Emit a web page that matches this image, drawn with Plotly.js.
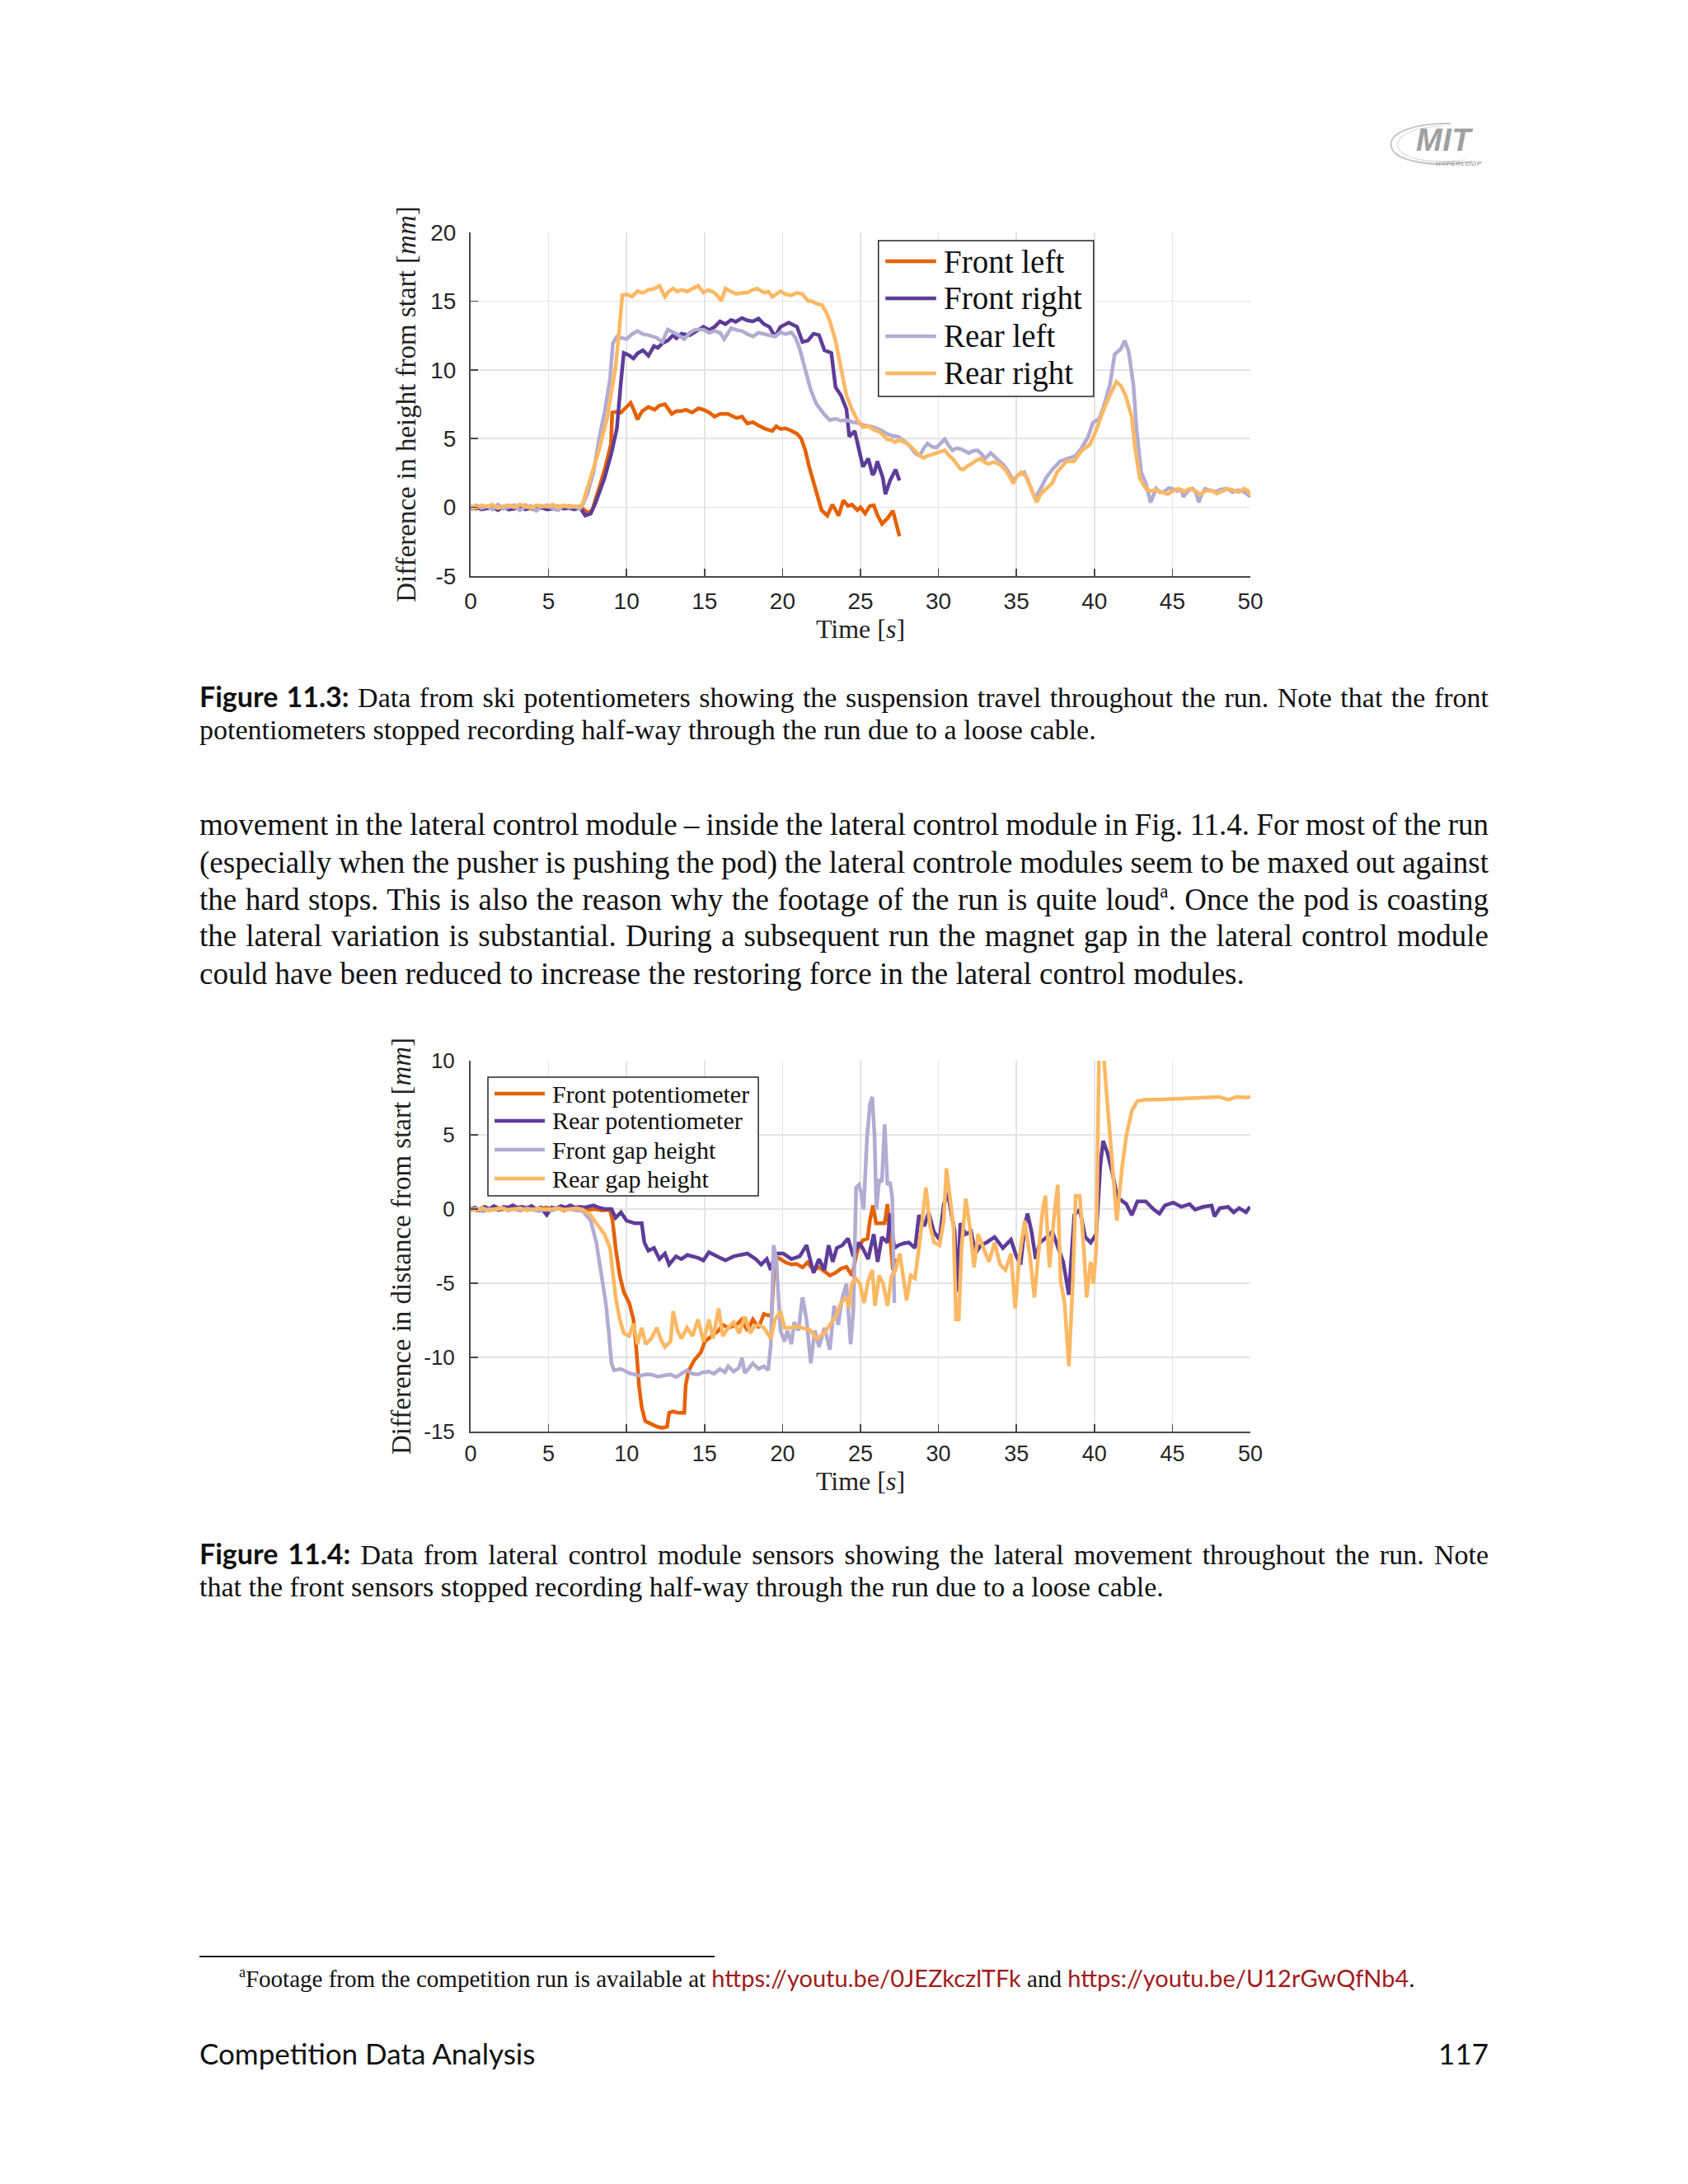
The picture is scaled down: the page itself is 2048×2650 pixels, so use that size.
<!DOCTYPE html>
<html>
<head>
<meta charset="utf-8">
<script src="https://cdn.plot.ly/plotly-3.0.1.min.js"></script>
<style>
  html, body { margin:0; padding:0; background:#ffffff; }
  #page { position:relative; width:2048px; height:2650px; background:#ffffff; overflow:hidden; color:#111; }
  .ln { position:absolute; left:242px; width:1564px; height:50px; line-height:50px; font-family:"Liberation Serif", serif; font-size:37px; white-space:nowrap; text-align:left; }
  .cap { font-size:34px; }
  .figlbl { font-family:Lato, "Open Sans", sans-serif; font-weight:700; }
  sup { font-size:0.62em; line-height:0; vertical-align:0.65em; }
  #chart1 { position:absolute; left:440px; top:240px; width:1120px; height:560px; }
  #chart2 { position:absolute; left:440px; top:1240px; width:1120px; height:580px; }
  .link { color:#a11b1b; font-family:Lato, sans-serif; }
  #rule { position:absolute; left:242px; top:2373px; width:625px; height:2px; background:#222; }
  #foot { position:absolute; left:290px; top:2380px; height:40px; line-height:40px; font-family:"Liberation Serif", serif; font-size:29px; white-space:nowrap; }
  #footer-l { position:absolute; left:242px; top:2468px; height:46px; line-height:46px; font-family:Lato, sans-serif; font-size:35px; }
  #footer-r { position:absolute; right:242px; top:2468px; height:46px; line-height:46px; font-family:Lato, sans-serif; font-size:35px; }
  #logo { position:absolute; left:1680px; top:140px; width:140px; height:72px; }
</style>
</head>
<body>
<div id="page">
  <svg id="logo" viewBox="0 0 140 72">
    <path d="M80,10 C34,9 4,22 8,38 C12,56 60,64 106,56" fill="none" stroke="#c2c2c2" stroke-width="1.8"/>
    <path d="M70,13 C34,14 14,25 16,37 C18,52 54,60 98,54" fill="none" stroke="#d6d6d6" stroke-width="1.1"/>
    <text x="38" y="43" font-family="Liberation Sans, sans-serif" font-weight="700" font-style="italic" font-size="38" fill="#a0a0a0" letter-spacing="0.5">MIT</text>
    <text x="62" y="61" font-family="Liberation Sans, sans-serif" font-weight="700" font-style="italic" font-size="8" fill="#a8a8a8" letter-spacing="0.6">HYPERLOOP</text>
  </svg>

  <div id="chart1"></div>

  <div class="ln cap just" style="top:820px;"><span class="figlbl">Figure 11.3:</span> Data from ski potentiometers showing the suspension travel throughout the run. Note that the front</div>
  <div class="ln cap" style="top:861px;">potentiometers stopped recording half-way through the run due to a loose cable.</div>

  <div class="ln just" style="top:976px;">movement in the lateral control module – inside the lateral control module in Fig. 11.4. For most of the run</div>
  <div class="ln just" style="top:1022px;">(especially when the pusher is pushing the pod) the lateral controle modules seem to be maxed out against</div>
  <div class="ln just" style="top:1067px;">the hard stops. This is also the reason why the footage of the run is quite loud<sup>a</sup>. Once the pod is coasting</div>
  <div class="ln just" style="top:1111px;">the lateral variation is substantial. During a subsequent run the magnet gap in the lateral control module</div>
  <div class="ln" style="top:1157px;">could have been reduced to increase the restoring force in the lateral control modules.</div>

  <div id="chart2"></div>

  <div class="ln cap just" style="top:1860px;"><span class="figlbl">Figure 11.4:</span> Data from lateral control module sensors showing the lateral movement throughout the run. Note</div>
  <div class="ln cap" style="top:1901px;">that the front sensors stopped recording half-way through the run due to a loose cable.</div>

  <div id="rule"></div>
  <div id="foot"><sup>a</sup>Footage from the competition run is available at <span class="link">https://youtu.be/0JEZkczlTFk</span> and <span class="link">https://youtu.be/U12rGwQfNb4</span>.</div>

  <div id="footer-l">Competition Data Analysis</div>
  <div id="footer-r">117</div>
</div>

<script>
// ---------- Figure 11.3 data (time [s], height difference [mm]) ----------
const frontLeftT = [0,0.35,0.7,1.05,1.4,1.75,2.1,2.45,2.8,3.15,3.5,3.85,4.2,4.55,4.9,5.25,5.6,5.95,6.3,6.65,7.0,
  7.3,7.55,7.8,8.1,8.4,8.6,8.8,9.0,9.08,9.3,9.64,9.9,10.26,10.5,10.7,11.0,11.4,11.8,12.1,12.46,
  12.9,13.2,13.5,13.8,14.2,14.6,14.93,15.3,15.64,16.0,16.5,17.05,17.4,17.75,18.1,18.46,18.9,19.34,19.6,19.87,
  20.2,20.6,20.93,21.2,21.46,21.7,22.0,22.25,22.5,22.87,23.2,23.6,23.9,24.2,24.45,24.8,25.0,25.3,25.6,25.85,
  26.1,26.38,26.73,27.08,27.26,27.5];
const frontLeftV = [0.05,-0.1,0.1,-0.05,0.15,-0.1,0.05,-0.15,0.1,0,0.15,-0.1,0.05,-0.05,0.1,-0.1,0.05,0,0.1,-0.05,0.05,
  -0.2,-0.4,-0.2,1.0,2.0,2.75,3.6,4.6,6.9,6.95,6.9,7.2,7.6,7.0,6.4,7.0,7.3,7.1,7.4,7.5,
  6.8,7.0,7.0,7.1,6.9,7.2,7.1,6.9,6.6,6.8,6.8,6.5,6.6,6.1,6.2,5.95,5.7,5.55,5.9,5.7,
  5.75,5.55,5.35,5.0,4.15,3.0,1.8,0.9,-0.2,-0.6,0.2,-0.6,0.5,0.1,0.2,-0.2,0,-0.45,0.1,0.15,
  -0.6,-1.2,-0.8,-0.25,-1.0,-2.1];

const frontRightT = [0,0.35,0.7,1.05,1.4,1.75,2.1,2.45,2.8,3.15,3.5,3.85,4.2,4.55,4.9,5.25,5.6,5.95,6.3,6.65,7.0,
  7.35,7.7,8.0,8.23,8.59,9.03,9.38,9.64,9.82,10.1,10.44,10.7,11.05,11.4,11.76,12.0,12.29,12.64,12.99,13.2,
  13.52,14.05,14.5,14.93,15.3,15.64,15.99,16.34,16.7,17.0,17.4,17.75,18.1,18.46,18.81,19.16,19.52,19.87,20.4,20.93,
  21.28,21.63,21.99,22.34,22.69,23.13,23.4,23.75,24.1,24.28,24.63,24.98,25.16,25.5,25.78,25.9,26.08,26.43,26.6,26.9,
  27.25,27.5];
const frontRightV = [-0.1,0.05,-0.15,-0.05,0.0,-0.2,0.05,-0.15,-0.1,0.1,-0.15,-0.05,-0.2,0.0,-0.15,-0.1,0.05,-0.1,-0.05,-0.15,0.0,
  -0.6,-0.45,0.3,0.96,2.15,3.95,5.75,9.14,11.23,11.1,10.83,11.2,11.43,11.03,11.73,11.6,11.93,12.13,12.53,12.3,
  12.63,12.53,12.8,13.13,12.9,13.13,13.53,13.33,13.63,13.5,13.77,13.6,13.53,13.73,13.33,13.13,12.43,13.13,13.43,13.13,
  12.03,12.13,12.63,12.53,11.43,11.23,8.74,8.14,7.14,5.15,5.55,3.95,2.95,3.55,2.35,2.56,3.35,2.16,0.96,1.95,
  2.75,1.95];

const rearLeftT = [0,0.35,0.7,1.05,1.4,1.75,2.1,2.45,2.8,3.15,3.5,3.85,4.2,4.55,4.9,5.25,5.6,5.95,6.3,6.65,7.0,
  7.18,7.5,7.88,8.23,8.59,8.94,9.12,9.38,10.0,10.35,10.7,11.05,11.4,11.94,12.29,12.64,13.17,13.7,14.05,14.4,
  14.93,15.3,15.64,16.0,16.26,16.7,17.05,17.4,17.75,18.1,18.46,18.81,19.16,19.52,19.87,20.2,20.57,20.84,21.1,21.46,
  21.81,22.16,22.69,23.04,23.4,23.75,24.1,24.5,24.8,25.3,25.6,26.0,26.35,26.7,27.05,27.4,27.9,28.2,28.5,28.8,
  29.05,29.3,29.6,29.86,30.1,30.4,30.65,30.9,31.15,31.4,31.7,31.95,32.2,32.5,32.75,33.0,33.35,33.6,33.9,34.15,
  34.4,34.8,35.1,35.5,35.8,36.0,36.2,36.55,36.9,37.3,37.8,38.3,38.8,39.2,39.6,39.9,40.3,40.6,41.0,41.3,
  41.7,41.95,42.2,42.5,42.7,43.0,43.3,43.6,43.96,44.2,44.5,44.75,45.0,45.3,45.6,45.7,46.0,46.3,46.5,46.7,
  46.9,47.1,47.45,47.8,48.1,48.5,48.85,49.2,49.5,49.8,50];
const rearLeftV = [-0.2,0.15,-0.05,0.1,-0.15,0.2,-0.1,0.05,0.15,-0.2,0.0,0.1,-0.25,0.05,0.15,-0.1,-0.2,0.1,0.0,0.05,-0.1,
  0.16,1.0,2.55,4.95,6.94,9.34,11.93,12.43,12.23,12.6,12.83,12.6,12.53,12.33,12.03,12.93,12.63,12.23,12.7,12.93,
  12.93,12.7,12.83,12.7,12.23,13.03,12.9,12.83,12.6,12.43,12.7,12.63,12.5,12.43,12.73,12.6,12.73,12.33,11.53,10.13,
  8.54,7.54,6.74,6.34,6.44,6.3,6.34,6.2,6.15,5.95,5.9,5.75,5.6,5.35,5.2,5.15,4.75,4.4,3.95,3.75,
  4.3,4.65,4.4,4.35,4.6,4.95,4.5,4.15,4.3,4.25,4.1,3.95,4.1,4.15,3.9,3.55,3.95,3.7,3.35,3.1,
  2.75,1.95,2.35,2.55,1.75,1.2,0.66,1.36,2.15,2.75,3.35,3.55,3.75,4.35,5.15,6.15,6.44,7.34,8.94,11.13,
  11.53,12.13,11.33,8.94,5.75,2.55,1.75,0.36,1.36,1.1,1.15,1.4,1.36,1.2,1.25,0.76,1.2,1.36,1.1,0.36,
  1.0,1.36,1.2,1.15,1.3,1.36,1.1,1.25,1.2,0.96,0.76];

const rearRightT = [0,0.35,0.7,1.05,1.4,1.75,2.1,2.45,2.8,3.15,3.5,3.85,4.2,4.55,4.9,5.25,5.6,5.95,6.3,6.65,7.0,
  7.18,7.45,7.7,8.0,8.23,8.5,8.76,9.0,9.29,9.5,9.64,9.73,10.0,10.35,10.7,11.05,11.4,11.76,12.11,12.46,
  12.7,12.99,13.25,13.52,13.9,14.23,14.58,14.93,15.2,15.46,15.75,16.08,16.34,16.7,17.05,17.4,17.75,18.05,18.37,18.81,
  19.1,19.34,19.6,19.87,20.2,20.57,20.9,21.28,21.63,21.9,22.16,22.52,22.8,23.04,23.4,23.75,24.1,24.45,24.8,25.16,
  25.5,25.86,26.2,26.5,26.7,27.0,27.2,27.5,27.8,28.05,28.3,28.55,28.8,29.05,29.3,29.6,29.86,30.1,30.4,30.65,
  30.9,31.2,31.4,31.6,31.85,32.1,32.4,32.7,32.95,33.2,33.55,33.9,34.15,34.4,34.8,35.05,35.3,35.7,36.0,36.3,
  36.55,36.9,37.3,37.6,37.9,38.2,38.7,38.95,39.2,39.7,40.1,40.6,41.0,41.4,41.7,42.0,42.4,42.6,42.9,43.3,
  43.6,43.96,44.3,44.7,45.05,45.4,45.75,46.1,46.45,46.8,47.15,47.5,47.85,48.2,48.55,48.9,49.25,49.6,49.85,50];
const rearRightV = [0.1,0.0,0.15,0.05,0.2,-0.05,0.1,0.15,0.0,0.2,0.1,-0.05,0.15,0.1,0.05,0.2,0.0,0.15,0.05,0.1,0.05,
  0.26,1.2,2.15,3.3,4.15,5.3,6.54,8.2,10.13,12.5,14.52,15.42,15.5,15.32,15.72,15.6,15.82,15.9,16.12,15.32,
  15.7,15.92,15.7,15.82,15.7,15.92,16.12,15.62,15.8,15.72,15.5,15.02,15.92,15.7,15.52,15.6,15.62,15.8,15.92,15.62,
  15.7,15.32,15.5,15.72,15.5,15.42,15.6,15.52,15.02,15.0,14.82,14.72,14.2,13.53,12.13,10.13,8.14,7.14,6.34,5.85,
  5.9,5.65,5.5,5.2,4.95,4.9,4.75,4.9,4.75,4.6,4.35,4.0,3.75,3.6,3.75,3.85,3.95,4.1,4.15,3.8,
  3.55,3.1,2.8,2.75,3.0,3.15,3.4,3.55,3.3,3.15,3.3,3.15,2.9,2.55,1.75,2.3,2.55,2.15,1.15,0.36,
  0.96,1.36,1.75,2.55,3.0,3.35,3.35,3.8,4.15,4.55,5.55,7.14,8.14,9.14,8.84,8.14,6.54,4.35,2.15,1.36,
  1.2,1.25,1.1,0.96,1.2,1.36,1.15,1.36,1.2,0.96,1.2,1.25,1.0,1.15,1.35,1.25,1.1,1.36,1.2,0.86];

// ---------- Figure 11.4 data (time [s], lateral distance difference [mm]) ----------
const frontPotT = [0,0.4,0.8,1.2,1.6,2.0,2.4,2.8,3.2,3.6,4.0,4.4,4.8,5.2,5.6,6.0,6.4,6.8,7.2,7.6,8.0,8.4,8.94,
  9.1,9.3,9.56,9.82,10.17,10.44,10.6,10.8,10.97,11.2,11.58,11.94,12.29,12.6,12.73,12.99,13.35,13.7,13.79,13.96,
  14.32,14.76,15.02,15.46,15.9,16.17,16.52,17.05,17.4,17.75,18.1,18.46,18.81,19.08,19.3,19.5,19.87,20.2,20.57,20.9,
  21.28,21.6,21.99,22.34,22.7,23.04,23.4,23.75,24.1,24.45,24.6,24.8,25.15,25.45,25.6,25.8,26.0,26.55,26.73,26.8,
  27.08,27.34];
const frontPotV = [0.05,-0.1,0.1,0.0,0.15,-0.05,0.1,0.0,-0.1,0.1,0.05,-0.05,0.1,0.0,0.05,-0.1,0.1,0.05,0.0,-0.05,0.0,-0.1,-0.05,
  -0.78,-2.63,-4.48,-5.59,-6.33,-7.44,-9.1,-11.9,-13.37,-14.3,-14.48,-14.67,-14.76,-14.67,-13.74,-13.65,-13.74,-13.74,-11.89,-10.96,
  -10.22,-9.67,-8.93,-8.56,-8.19,-7.81,-8.0,-7.81,-7.44,-8.19,-7.44,-8.0,-7.07,-7.17,-7.1,-3.2,-3.37,-3.6,-3.74,-3.7,
  -3.93,-3.6,-4.11,-3.93,-4.2,-4.48,-4.3,-4.02,-3.9,-4.48,-3.8,-2.8,-2.1,-2.0,-0.8,0.24,-0.96,-0.96,0.33,-0.5,
  -4.11,-3.37];

const rearPotT = [0,0.3,0.6,0.9,1.2,1.5,1.8,2.1,2.4,2.7,3.0,3.3,3.6,3.9,4.2,4.5,4.88,5.2,5.5,5.8,
  6.1,6.4,6.7,7.0,7.3,7.6,7.88,8.2,8.59,9.03,9.3,9.64,10.0,10.53,10.97,11.14,11.4,11.76,12.11,12.46,
  12.73,13.17,13.52,13.9,14.23,14.6,14.93,15.28,15.81,16.34,16.87,17.3,17.75,18.28,18.63,18.99,19.25,19.52,20.05,20.57,
  21.1,21.54,21.99,22.34,22.69,22.96,23.22,23.48,23.84,24.2,24.54,24.9,25.14,25.49,25.85,26.1,26.37,26.73,26.9,27.17,
  27.43,27.8,28.1,28.5,28.75,29.1,29.37,29.7,30.07,30.34,30.6,30.78,31.04,31.22,31.4,31.75,32.1,32.36,32.72,33.07,
  33.6,34.13,34.65,35.0,35.27,35.53,35.71,35.97,36.24,36.5,36.95,37.3,37.65,38.0,38.36,38.71,39.06,39.41,39.76,40.12,
  40.38,40.56,40.82,41.17,41.44,41.7,42.05,42.4,42.76,43.29,43.82,44.17,44.52,45.05,45.58,46.1,46.46,46.99,47.52,47.7,
  48.05,48.57,48.93,49.28,49.72,49.98];
const rearPotV = [0,0.1,-0.1,0.15,0,0.2,-0.05,0.15,0.1,0.25,0.1,0.15,0.05,0.2,0.0,0.1,-0.4,0.1,0.05,0.2,
  0.1,0.25,0.1,0.15,0.1,0.2,0.24,0.1,0.0,0.0,-0.59,-0.22,-0.78,-0.96,-0.96,-2.26,-2.81,-2.63,-3.37,-3.0,
  -3.74,-3.19,-3.37,-3.1,-3.19,-3.3,-3.46,-2.91,-3.19,-3.46,-3.19,-3.1,-3.0,-3.37,-3.74,-3.37,-4.11,-3.0,-3.0,-3.37,
  -3.19,-2.44,-4.3,-3.37,-4.11,-2.44,-3.56,-2.63,-2.44,-1.98,-3.19,-2.26,-2.63,-3.37,-1.7,-3.56,-1.89,-2.26,-0.3,-2.63,
  -2.44,-2.3,-2.26,-2.63,-0.41,-1.15,-0.22,-1.52,-2.07,0.33,1.07,-0.04,-1.52,-5.59,-0.96,-1.7,-1.52,-3.0,-2.44,-2.26,
  -1.89,-2.63,-2.07,-3.19,-3.74,-1.15,-0.31,-1.52,-3.37,-2.26,-1.89,-1.52,-2.63,-3.56,-5.78,-0.41,-0.04,-1.89,-2.26,-1.7,
  2.93,4.59,3.85,2.37,0.89,0.61,0.33,-0.41,0.52,0.52,-0.04,-0.31,0.24,0.43,0.15,0.33,-0.04,0.15,0.24,-0.5,
  0.06,0.15,-0.22,0.06,-0.22,0.15];

const frontGapT = [0,0.4,0.8,1.2,1.6,2.0,2.4,2.8,3.2,3.6,4.0,4.4,4.8,5.2,5.6,6.0,6.4,6.8,7.18,
  7.7,8.06,8.41,8.67,8.85,9.03,9.2,9.64,10.17,10.88,11.2,11.58,12.0,12.46,12.8,13.17,13.5,13.88,14.2,14.58,
  14.9,15.28,15.6,15.99,16.3,16.52,16.87,17.2,17.4,17.58,17.8,18.1,18.46,18.8,19.08,19.25,19.43,19.6,19.87,20.13,
  20.31,20.57,20.75,21.02,21.28,21.54,21.81,22.07,22.34,22.69,23.04,23.31,23.57,23.84,24.1,24.37,24.54,24.72,24.9,25.05,
  25.2,25.42,25.6,25.75,25.9,26.02,26.2,26.37,26.55,26.73,26.9,27.04,27.17];
const frontGapV = [-0.1,0.05,-0.15,0.0,-0.05,0.1,-0.1,0.0,-0.1,0.05,-0.05,-0.15,0.0,-0.1,0.05,-0.05,0.0,-0.1,-0.13,
  -0.78,-2.26,-4.48,-6.33,-8.19,-10.4,-10.87,-10.78,-11.06,-11.24,-11.15,-11.15,-11.3,-11.24,-11.15,-11.33,-11.1,-10.87,-11.1,-11.15,
  -11.0,-10.96,-11.1,-10.78,-11.0,-10.59,-10.96,-10.7,-10.04,-11.06,-10.8,-10.4,-10.78,-10.6,-10.87,-9.11,-2.44,-3.37,-8.19,-8.93,
  -8.19,-9.11,-7.63,-8.19,-5.96,-7.44,-10.4,-8.19,-9.3,-8.0,-9.48,-6.52,-7.81,-5.96,-5.04,-9.11,-6.89,1.44,1.63,1.07,
  -0.04,4.78,7.0,7.56,5.0,-0.04,2.0,1.81,5.7,1.63,1.81,0.7,-6.33];

const rearGapT = [0,0.4,0.8,1.2,1.6,2.0,2.4,2.8,3.2,3.6,4.0,4.4,4.8,5.2,5.6,6.0,6.4,6.8,7.18,
  7.7,8.06,8.59,8.94,9.12,9.3,9.56,9.82,10.17,10.44,10.7,10.97,11.23,11.58,11.94,12.2,12.46,12.82,12.99,13.26,
  13.52,13.88,14.23,14.58,14.93,15.28,15.55,15.9,16.17,16.52,16.87,17.22,17.58,17.93,18.2,18.46,18.81,19.25,19.52,19.87,
  20.13,20.57,20.9,21.28,21.81,22.16,22.69,23.04,23.4,23.75,24.1,24.26,24.44,24.7,24.96,25.23,25.49,25.76,25.93,26.2,
  26.46,26.73,27.0,27.26,27.52,27.78,27.96,28.22,28.49,28.75,29.02,29.2,29.46,29.72,30.07,30.34,30.51,30.69,30.96,31.13,
  31.3,31.48,31.75,32.01,32.28,32.54,32.89,33.24,33.6,33.95,34.3,34.65,34.92,35.18,35.53,35.89,36.15,36.42,36.68,36.86,
  37.12,37.39,37.65,37.83,38.09,38.36,38.62,38.8,39.06,39.32,39.5,39.76,39.94,40.12,40.29,40.4,40.55,40.73,41.0,41.26,
  41.44,41.61,41.79,42.05,42.4,42.76,43.29,44.0,44.7,45.4,46.3,47.2,48.0,48.6,49.1,49.8,50.0];
const rearGapV = [0.0,-0.05,0.05,-0.1,0.0,0.05,-0.05,0.0,0.05,-0.1,0.0,0.05,-0.05,0.0,0.05,-0.05,0.0,0.05,-0.04,
  -0.41,-0.96,-1.7,-2.63,-4.48,-5.96,-7.44,-8.37,-8.56,-7.72,-9.11,-8.0,-9.11,-8.74,-8.0,-8.8,-9.3,-8.93,-6.89,-8.19,
  -8.74,-8.0,-8.56,-7.44,-8.93,-7.44,-8.74,-6.7,-8.56,-8.0,-7.63,-8.37,-7.26,-8.37,-7.9,-7.81,-8.0,-8.74,-7.44,-6.89,
  -8.0,-8.0,-7.9,-8.0,-8.19,-8.74,-8.37,-7.81,-7.26,-6.33,-5.96,-6.7,-5.04,-4.67,-5.04,-6.33,-4.85,-4.11,-6.52,-4.48,
  -5.04,-6.52,-4.48,-4.11,-3.0,-4.85,-6.15,-4.48,-4.67,-2.63,0.15,1.44,-1.15,-2.26,-2.44,-0.78,2.74,1.07,-1.15,-7.44,
  -7.44,-2.63,0.7,-1.15,-3.93,-1.7,-2.63,-3.56,-2.26,-3.74,-4.11,-3.0,-6.7,-3.37,-0.78,-3.37,-5.96,-2.63,-0.04,0.89,
  -3.93,-0.78,1.63,-4.85,-6.33,-10.59,-4.85,0.89,0.89,-2.63,-5.96,-3.56,-5.04,-2.63,9.96,11.5,11.0,8.48,4.78,1.44,
  -0.78,1.07,2.93,4.96,6.63,7.28,7.37,7.37,7.41,7.46,7.46,7.52,7.56,7.37,7.56,7.52,7.56];

// ---------- labels / axes ----------
const fig1Names = ["Front left", "Front right", "Rear left", "Rear right"];
const fig2Names = ["Front potentiometer", "Rear potentiometer", "Front gap height", "Rear gap height"];
const seriesColors = ["#e66101", "#5e3c99", "#b2abd2", "#fdb863"];
const timeTicks = [0,5,10,15,20,25,30,35,40,45,50];
const fig1YTicks = [-5,0,5,10,15,20];
const fig2YTicks = [-15,-10,-5,0,5,10];

const SERIF = '"Liberation Serif", "Times New Roman", serif';
const SANS = '"Liberation Sans", Arial, sans-serif';
const AX = '#4a4a4a';

// justify body lines exactly to the text block width
function wrapLines() {
  document.querySelectorAll('.ln.just').forEach(el => {
    const span = document.createElement('span');
    while (el.firstChild) span.appendChild(el.firstChild);
    el.appendChild(span);
  });
}
function justifyLines() {
  document.querySelectorAll('.ln.just').forEach(el => {
    el.style.wordSpacing = '0px';
    const w = el.firstElementChild.getBoundingClientRect().width;
    const n = (el.textContent.trim().match(/ +/g) || []).length;
    if (n > 0) el.style.wordSpacing = ((1564 - w) / n) + 'px';
  });
}
wrapLines();
justifyLines();
if (document.fonts && document.fonts.ready) document.fonts.ready.then(justifyLines);

function lineTrace(x, y, name, color) {
  return { type:'scatter', mode:'lines', x:x, y:y, name:name,
           line:{color:color, width:4.5}, hoverinfo:'skip', showlegend:false };
}

function axisBase(tickvals, range, tickSize) {
  return {
    range: range, tickmode:'array', tickvals: tickvals, ticktext: tickvals.map(String),
    ticks:'inside', ticklen:9, tickwidth:1.5, tickcolor:AX,
    showline:true, linecolor:AX, linewidth:2, mirror:false,
    showgrid:true, gridcolor:'#e4e4e4', gridwidth:1.5, zeroline:false,
    tickfont:{family:SANS, size:tickSize, color:'#262626'},
    automargin:false, fixedrange:true
  };
}

function legendPieces(names, box, rows, lineX, textX, fontSize) {
  const shapes = [{type:'rect', xref:'paper', yref:'paper', x0:box[0], x1:box[1], y0:box[2], y1:box[3],
                   fillcolor:'#ffffff', line:{color:'#262626', width:1.5}, layer:'above'}];
  const ann = [];
  names.forEach((n, i) => {
    shapes.push({type:'line', xref:'paper', yref:'paper', x0:lineX[0], x1:lineX[1], y0:rows[i], y1:rows[i],
                 line:{color:seriesColors[i], width:4.5}, layer:'above'});
    ann.push({xref:'paper', yref:'paper', x:textX, y:rows[i], xanchor:'left', yanchor:'middle',
              text:n, showarrow:false, font:{family:SERIF, size:fontSize, color:'#111'}});
  });
  return {shapes, ann};
}

// ----- Figure 11.3 -----
const leg1 = legendPieces(fig1Names, [0.523, 0.799, 0.523, 0.976], [0.916, 0.808, 0.698, 0.590], [0.532, 0.597], 0.605, 39);
const x1 = axisBase(timeTicks, [0, 50], 28);
x1.ticklabelstandoff = 4;
x1.title = {text:'Time [<i>s</i>]', font:{family:SERIF, size:32, color:'#222'}, standoff:2};
const y1 = axisBase(fig1YTicks, [-5, 20], 28);
y1.ticklabelstandoff = 10;
y1.title = {text:'Difference in height from start [<i>mm</i>]', font:{family:SERIF, size:33, color:'#222'}, standoff:8};

Plotly.newPlot('chart1', [
  lineTrace(frontLeftT, frontLeftV, fig1Names[0], seriesColors[0]),
  lineTrace(frontRightT, frontRightV, fig1Names[1], seriesColors[1]),
  lineTrace(rearLeftT, rearLeftV, fig1Names[2], seriesColors[2]),
  lineTrace(rearRightT, rearRightV, fig1Names[3], seriesColors[3])
], {
  width:1120, height:560, margin:{l:131, r:43, t:42, b:101},
  paper_bgcolor:'rgba(0,0,0,0)', plot_bgcolor:'#ffffff', showlegend:false,
  xaxis:x1, yaxis:y1, shapes:leg1.shapes, annotations:leg1.ann
}, {staticPlot:true, displayModeBar:false});

// ----- Figure 11.4 -----
const leg2 = legendPieces(fig2Names, [0.0222, 0.369, 0.6356, 0.9556], [0.911, 0.838, 0.760, 0.682], [0.0307, 0.0951], 0.1025, 30);
const x2 = axisBase(timeTicks, [0, 50], 27);
x2.ticklabelstandoff = 2;
x2.title = {text:'Time [<i>s</i>]', font:{family:SERIF, size:32, color:'#222'}, standoff:2};
const y2 = axisBase(fig2YTicks, [-15, 10], 26);
y2.ticklabelstandoff = 12;
y2.title = {text:'Difference in distance from start [<i>mm</i>]', font:{family:SERIF, size:33, color:'#222'}, standoff:6};

Plotly.newPlot('chart2', [
  lineTrace(frontPotT, frontPotV, fig2Names[0], seriesColors[0]),
  lineTrace(rearPotT, rearPotV, fig2Names[1], seriesColors[1]),
  lineTrace(frontGapT, frontGapV, fig2Names[2], seriesColors[2]),
  lineTrace(rearGapT, rearGapV, fig2Names[3], seriesColors[3])
], {
  width:1120, height:580, margin:{l:131, r:43, t:47, b:83},
  paper_bgcolor:'rgba(0,0,0,0)', plot_bgcolor:'#ffffff', showlegend:false,
  xaxis:x2, yaxis:y2, shapes:leg2.shapes, annotations:leg2.ann
}, {staticPlot:true, displayModeBar:false});
</script>
</body>
</html>
